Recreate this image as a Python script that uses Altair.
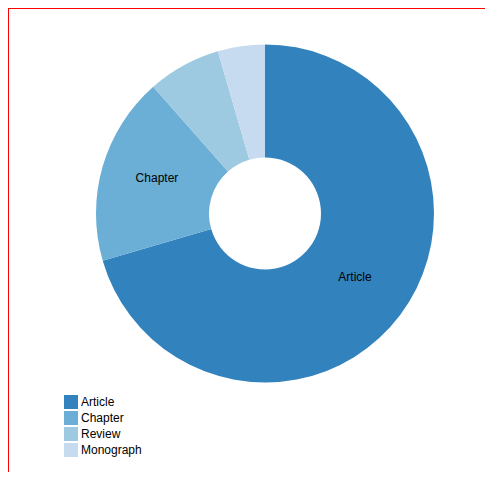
import altair as alt
import pandas as pd

categories = ["Article", "Chapter", "Review", "Monograph"]
counts = [141, 36, 14, 9]
colors = ["#3182bd", "#6baed6", "#9ecae1", "#c6dbef"]
shown_labels = ["Article", "Chapter", "", ""]

df = pd.DataFrame({
    "category": categories,
    "count": counts,
    "idx": list(range(len(categories))),
    "label": shown_labels,
})

W, H = 477, 464
CX, CY = 257, 205.5

base = alt.Chart(df).encode(
    theta=alt.Theta("count:Q", stack=True),
    order=alt.Order("idx:Q"),
)

arcs = base.mark_arc(innerRadius=56, outerRadius=169, stroke=None).encode(
    x=alt.value(CX),
    y=alt.value(CY),
    color=alt.Color(
        "category:N",
        title=None,
        scale=alt.Scale(domain=categories, range=colors),
        legend=alt.Legend(
            orient="none",
            legendX=56,
            legendY=387,
            symbolType="square",
            symbolSize=196,
            symbolStrokeWidth=0,
            symbolOpacity=1,
            labelFont="Liberation Sans",
            labelFontSize=12,
            labelColor="#000000",
            labelOffset=3,
            rowPadding=2,
        ),
    ),
)

texts = base.mark_text(
    radius=112.5,
    font="Liberation Sans",
    fontSize=12,
    color="#000000",
    align="center",
    baseline="alphabetic",
).encode(
    x=alt.value(CX),
    y=alt.value(CY),
    text="label:N",
)

frame_df = pd.DataFrame({"a": [0]})
top_line = alt.Chart(frame_df).mark_rule(color="#ff0000", strokeWidth=1).encode(
    x=alt.value(0), x2=alt.value(W), y=alt.value(0.5)
)
left_line = alt.Chart(frame_df).mark_rule(color="#ff0000", strokeWidth=1).encode(
    x=alt.value(0.5), y=alt.value(0), y2=alt.value(H)
)

chart = alt.layer(arcs, texts, top_line, left_line).properties(
    width=W,
    height=H,
    autosize=alt.AutoSizeParams(type="none"),
    padding=0,
).configure_view(strokeWidth=0)

chart.save("out.html", embed_options={"renderer": "svg", "actions": False})
